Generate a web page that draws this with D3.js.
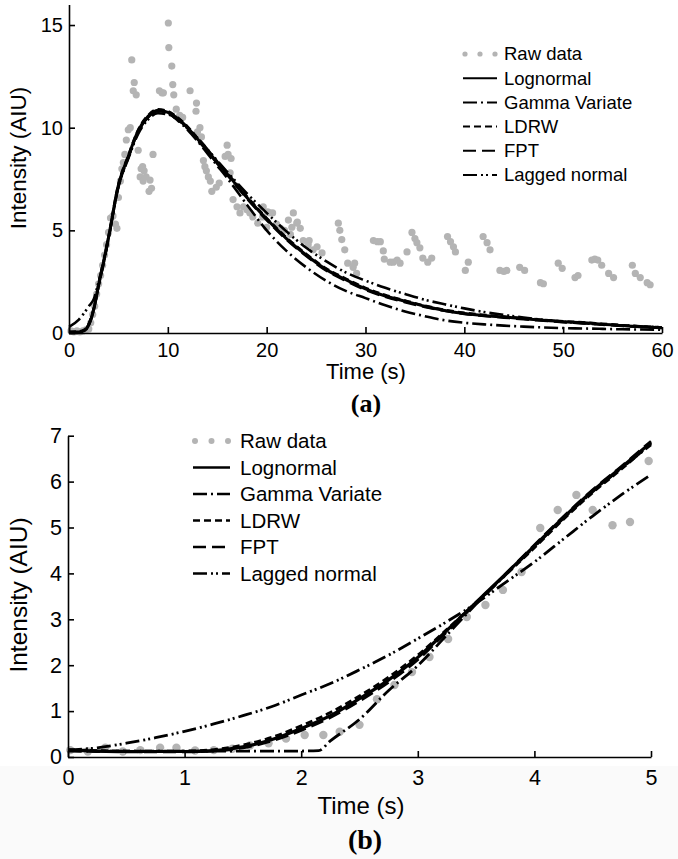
<!DOCTYPE html>
<html>
<head>
<meta charset="utf-8">
<script src="https://cdn.jsdelivr.net/npm/d3@7"></script>
<style>
  body { margin: 0; background: #fff; }
  svg { display: block; }
</style>
</head>
<body>
<svg id="canvas"></svg>
<script>
// ---- data ----
const legendLabels = ["Raw data", "Lognormal", "Gamma Variate", "LDRW", "FPT", "Lagged normal"];

// panel (a)
const topXTicks = [0, 10, 20, 30, 40, 50, 60];
const topYTicks = [0, 5, 10, 15];
const topTime = [0,1,1.5,2,2.5,3,3.5,4,5,6,7,8,9,10,11,12,13,14,15,16,18,20,22,24,26,28,30,32,34,36,38,40,42,44,46,48,50,52,54,56,58,60];
const topLognormal = [0.05,0.05,0.1,0.4,1.15,2.35,3.45,4.65,7.2,8.6,9.85,10.55,10.85,10.75,10.45,10.0,9.45,8.9,8.3,7.75,6.6,5.55,4.6,3.8,3.1,2.6,2.15,1.8,1.55,1.3,1.1,0.95,0.85,0.78,0.7,0.62,0.55,0.5,0.42,0.36,0.3,0.25];
const topLDRW = [0.05,0.08,0.15,0.45,1.2,2.4,3.5,4.7,7.25,8.65,9.9,10.6,10.9,10.8,10.5,10.05,9.5,8.95,8.35,7.8,6.65,5.6,4.65,3.85,3.15,2.65,2.2,1.85,1.58,1.33,1.13,0.98,0.88,0.8,0.72,0.64,0.57,0.52,0.45,0.38,0.32,0.27];
const topFPT = [0.03,0.04,0.12,0.42,1.12,2.3,3.4,4.6,7.15,8.55,9.8,10.5,10.8,10.7,10.4,9.95,9.4,8.85,8.25,7.7,6.55,5.5,4.55,3.75,3.05,2.55,2.1,1.76,1.5,1.27,1.08,0.93,0.83,0.75,0.67,0.6,0.53,0.47,0.4,0.34,0.29,0.24];
const topGamma = [0,0.02,0.08,0.38,1.12,2.3,3.4,4.6,7.15,8.55,9.8,10.5,10.8,10.7,10.35,9.9,9.35,8.75,8.15,7.55,6.25,5.0,4.0,3.2,2.55,2.05,1.7,1.35,1.05,0.82,0.62,0.5,0.42,0.36,0.31,0.27,0.24,0.22,0.2,0.18,0.17,0.16];
const topLagged = [0.3,0.65,0.95,1.3,1.65,2.5,3.5,4.65,7.1,8.5,9.7,10.4,10.7,10.65,10.4,10.0,9.5,8.95,8.4,7.85,6.8,5.85,4.95,4.15,3.5,2.95,2.55,2.2,1.9,1.62,1.4,1.2,1.02,0.88,0.75,0.64,0.55,0.48,0.42,0.37,0.32,0.28];
const topRawTime = [0.2,0.5,0.8,1.1,1.4,1.7,2.0,2.2,2.4,2.6,
  2.8,3.0,3.2,3.4,3.6,3.8,4.0,4.2,4.45,4.7,
  4.85,5.0,5.2,5.35,5.5,5.65,5.8,6.0,6.2,6.35,
  6.5,6.6,6.8,7.0,7.2,7.3,7.45,7.5,7.6,7.8,
  8.1,8.2,8.35,8.5,9.15,9.4,9.55,10.05,10.1,10.4,
  10.5,10.6,10.85,11.2,11.5,12.25,12.85,12.9,13.0,13.25,
  13.4,13.6,13.75,13.9,14.1,14.3,14.45,14.9,15.2,15.8,
  16.0,16.1,16.3,16.4,16.6,17.0,17.3,17.65,18.0,18.3,
  18.6,19.1,19.6,19.65,20.0,20.1,20.3,20.6,21.0,21.4,
  21.8,22.2,22.4,22.55,22.7,23.05,23.1,23.4,23.7,24.2,
  24.3,24.7,25.1,25.6,27.25,27.4,27.6,27.9,28.2,28.75,
  28.9,29.1,30.8,31.2,31.5,31.8,31.9,32.5,32.8,33.2,
  33.5,34.2,34.7,35.0,35.2,35.5,35.8,36.3,36.7,38.3,
  38.6,38.9,39.1,40.1,40.4,41.9,42.3,42.6,43.6,44.0,
  44.3,45.6,46.1,47.7,48.0,49.5,49.9,51.2,51.5,52.9,
  53.2,53.5,53.9,54.6,55.1,57.0,57.3,57.8,58.5,58.8];
const topRawValue = [0.1,0.05,0.1,0.05,0.1,0.15,0.2,0.5,0.9,1.3,
  1.9,2.4,2.8,3.3,3.8,4.3,4.9,5.6,5.7,5.3,
  5.1,6.6,7.4,8.0,8.3,8.7,9.4,9.9,10.0,13.3,
  11.8,12.2,11.6,8.9,7.6,8.0,8.1,7.4,7.9,7.6,
  6.9,7.45,7.05,8.7,11.8,11.7,11.7,15.1,13.9,13.0,
  12.1,11.6,10.9,10.6,10.5,11.8,10.8,11.2,9.8,10.0,
  9.55,8.4,8.1,7.9,7.6,7.4,6.9,7.1,7.3,8.6,
  9.15,8.7,7.8,8.5,6.5,6.15,5.85,6.15,6.0,5.85,
  5.65,5.35,5.65,6.15,5.15,5.9,5.85,5.85,5.3,5.1,
  5.0,5.5,4.8,5.15,5.85,5.35,5.4,5.1,4.5,4.3,
  4.5,4.05,4.2,3.9,5.35,5.0,4.55,4.05,3.4,3.2,
  3.4,2.9,4.5,4.45,4.45,4.0,3.6,3.45,3.45,3.55,
  3.4,3.95,4.9,4.6,4.4,4.15,3.65,3.45,3.65,4.7,
  4.45,4.2,3.95,3.05,3.45,4.7,4.4,4.05,3.05,3.0,
  3.05,3.2,3.05,2.45,2.4,3.4,3.15,2.7,2.8,3.55,
  3.6,3.55,3.3,2.9,2.7,3.3,2.9,2.7,2.45,2.35];

// panel (b)
const botXTicks = [0, 1, 2, 3, 4, 5];
const botYTicks = [0, 1, 2, 3, 4, 5, 6, 7];
const botTime = [0,0.25,0.5,0.75,1,1.25,1.5,1.75,2,2.25,2.5,2.75,3,3.25,3.5,3.75,4,4.25,4.5,4.75,5];
const botLognormal = [0.15,0.13,0.12,0.12,0.12,0.14,0.22,0.38,0.62,0.9,1.27,1.68,2.17,2.76,3.37,3.98,4.6,5.22,5.8,6.32,6.85];
const botLDRW = [0.16,0.14,0.13,0.13,0.13,0.16,0.26,0.43,0.68,0.97,1.33,1.74,2.22,2.78,3.37,3.96,4.56,5.18,5.76,6.28,6.83];
const botFPT = [0.14,0.12,0.11,0.11,0.11,0.13,0.2,0.35,0.58,0.86,1.22,1.63,2.12,2.73,3.35,3.98,4.62,5.24,5.82,6.34,6.88];
const botGammaTime = [0,1,2,2.15,2.25,2.5,2.75,3,3.25,3.5,3.75,4,4.25,4.5,4.75,5];
const botGamma = [0.13,0.13,0.13,0.14,0.35,0.82,1.45,1.99,2.66,3.33,3.96,4.58,5.2,5.78,6.3,6.8];
const botLagged = [0.15,0.2,0.3,0.42,0.56,0.72,0.9,1.1,1.35,1.6,1.9,2.22,2.58,2.95,3.35,3.8,4.25,4.75,5.25,5.72,6.15];
const botRawTime = [0.02,0.17,0.32,0.47,0.62,0.79,0.93,1.09,1.25,1.41,1.56,1.72,1.87,2.03,2.19,2.33,2.5,2.65,2.8,2.95,3.1,3.26,3.42,3.58,3.73,3.89,4.05,4.2,4.36,4.5,4.67,4.82,4.98];
const botRawValue = [0.15,0.12,0.2,0.12,0.15,0.2,0.2,0.14,0.15,0.18,0.25,0.3,0.4,0.48,0.48,0.55,0.7,1.26,1.57,1.85,2.18,2.57,3.05,3.31,3.64,4.03,4.99,5.38,5.71,5.38,5.05,5.12,6.45];

// ---- drawing ----
const W = 678, H = 859;
const sans = "'Liberation Sans', Arial, Helvetica, sans-serif";
const serif = "'Liberation Serif', 'Times New Roman', serif";
const rawColor = "#b4b4b4";

// line style per fit model
const dashOf = {
    "Lognormal": null,
    "Gamma Variate": "14,4,2,4",
    "LDRW": "7,4",
    "FPT": "13,6",
    "Lagged normal": "14,4,2,3,2,4"
};

const svg = d3.select("#canvas").attr("width", W).attr("height", H);
svg.append("rect").attr("width", W).attr("height", H).attr("fill", "#fff");
// faint grey band at the foot of the scanned figure
svg.append("rect").attr("y", 766).attr("width", W).attr("height", H - 766).attr("fill", "#fafafa");

function drawPanel(p) {
    const x = d3.scaleLinear().domain(p.xDomain).range(p.xRange);
    const y = d3.scaleLinear().domain(p.yDomain).range(p.yRange);
    const g = svg.append("g");

    // raw samples
    g.append("g")
        .selectAll("circle")
        .data(p.rawT.map((t, i) => [t, p.rawV[i]]))
        .join("circle")
        .attr("cx", d => x(d[0]))
        .attr("cy", d => y(d[1]))
        .attr("r", p.dotR)
        .attr("fill", rawColor);

    const line = d3.line()
        .x(d => x(d[0]))
        .y(d => y(d[1]))
        .curve(d3.curveMonotoneX);

    // fitted curves, solid lognormal drawn last
    g.append("g")
        .selectAll("path")
        .data(p.fits)
        .join("path")
        .attr("d", d => line(d.t.map((t, i) => [t, d.v[i]])))
        .attr("fill", "none")
        .attr("stroke", "#000")
        .attr("stroke-width", d => d.key === "Lognormal" ? p.lineW + 0.4 : p.lineW)
        .attr("stroke-dasharray", d => dashOf[d.key]);

    // axes, MATLAB style inward ticks
    const xAxis = g.append("g")
        .attr("transform", `translate(0,${p.yRange[0]})`)
        .call(d3.axisBottom(x).tickValues(p.xTicks).tickFormat(d3.format("d"))
            .tickSizeInner(-6).tickSizeOuter(0).tickPadding(p.xPad));
    const yAxis = g.append("g")
        .attr("transform", `translate(${p.xRange[0]},0)`)
        .call(d3.axisLeft(y).tickValues(p.yTicks).tickFormat(d3.format("d"))
            .tickSizeInner(-6).tickSizeOuter(0).tickPadding(6));
    [xAxis, yAxis].forEach(a => {
        a.select(".domain").attr("stroke-width", 1.6);
        a.selectAll(".tick line").attr("stroke-width", 1.6);
        a.selectAll("text")
            .attr("font-family", sans)
            .attr("font-size", p.tickFont)
            .attr("fill", "#000");
    });

    // axis titles
    g.append("text")
        .attr("x", p.xLabelX).attr("y", p.xLabelY)
        .attr("text-anchor", "middle")
        .attr("font-family", sans).attr("font-size", p.xLabelFont)
        .text("Time (s)");
    g.append("text")
        .attr("transform", `translate(${p.yLabelX},${p.yLabelY}) rotate(-90)`)
        .attr("text-anchor", "middle")
        .attr("font-family", sans).attr("font-size", p.yLabelFont)
        .text("Intensity (AIU)");
    g.append("text")
        .attr("x", p.tagX).attr("y", p.tagY)
        .attr("text-anchor", "middle")
        .attr("font-family", serif).attr("font-weight", "bold").attr("font-size", p.tagFont)
        .text(p.tag);

    // legend
    const lg = g.append("g");
    legendLabels.forEach((label, i) => {
        const ly = p.legY + i * p.legDy;
        if (i === 0) {
            [0, 0.5, 1].forEach(f => {
                lg.append("circle")
                    .attr("cx", p.legX0 + 2 + f * (p.legX1 - p.legX0 - 4))
                    .attr("cy", ly)
                    .attr("r", p.legDotR)
                    .attr("fill", rawColor);
            });
        } else {
            lg.append("line")
                .attr("x1", p.legX0).attr("x2", p.legX1)
                .attr("y1", ly).attr("y2", ly)
                .attr("stroke", "#000")
                .attr("stroke-width", p.legLineW)
                .attr("stroke-dasharray", dashOf[label]);
        }
        lg.append("text")
            .attr("x", p.legTextX).attr("y", ly)
            .attr("dy", "0.35em")
            .attr("font-family", sans).attr("font-size", p.legFont)
            .text(label);
    });
}

drawPanel({
    xDomain: [0, 60], xRange: [69, 662],
    yDomain: [0, 16], yRange: [333, 4.5],
    xTicks: topXTicks, yTicks: topYTicks,
    rawT: topRawTime, rawV: topRawValue, dotR: 3.6, lineW: 2.6,
    fits: [
        { key: "Lagged normal", t: topTime, v: topLagged },
        { key: "Gamma Variate", t: topTime, v: topGamma },
        { key: "FPT", t: topTime, v: topFPT },
        { key: "LDRW", t: topTime, v: topLDRW },
        { key: "Lognormal", t: topTime, v: topLognormal }
    ],
    xPad: 10, tickFont: 20,
    xLabelX: 366, xLabelY: 379, xLabelFont: 22,
    yLabelX: 26, yLabelY: 158, yLabelFont: 22.5,
    tag: "(a)", tagX: 366, tagY: 412, tagFont: 26,
    legX0: 463, legX1: 497, legTextX: 504, legY: 54, legDy: 24.2, legFont: 18.5, legDotR: 2.6, legLineW: 2
});

drawPanel({
    xDomain: [0, 5], xRange: [68, 651],
    yDomain: [0, 7], yRange: [757, 435.7],
    xTicks: botXTicks, yTicks: botYTicks,
    rawT: botRawTime, rawV: botRawValue, dotR: 4.2, lineW: 2.8,
    fits: [
        { key: "Lagged normal", t: botTime, v: botLagged },
        { key: "Gamma Variate", t: botGammaTime, v: botGamma },
        { key: "FPT", t: botTime, v: botFPT },
        { key: "LDRW", t: botTime, v: botLDRW },
        { key: "Lognormal", t: botTime, v: botLognormal }
    ],
    xPad: 13, tickFont: 21.5,
    xLabelX: 361, xLabelY: 814, xLabelFont: 24,
    yLabelX: 27, yLabelY: 595, yLabelFont: 24.5,
    tag: "(b)", tagX: 365, tagY: 849, tagFont: 28,
    legX0: 193, legX1: 230, legTextX: 240, legY: 441, legDy: 26.5, legFont: 20.5, legDotR: 3, legLineW: 2.4
});
</script>
</body>
</html>
